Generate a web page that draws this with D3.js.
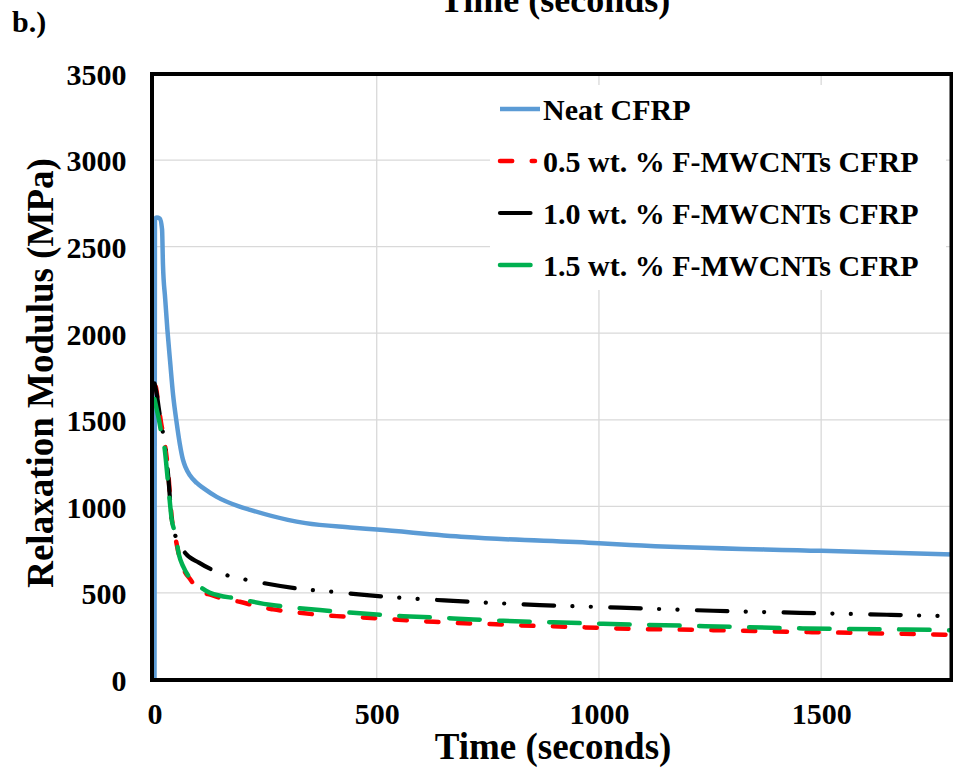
<!DOCTYPE html>
<html>
<head>
<meta charset="utf-8">
<script src="https://cdn.jsdelivr.net/npm/d3@7"></script>
<style>
  body { margin: 0; background: #fff; }
  svg text { font-family: "Liberation Serif", "Times New Roman", serif; font-weight: bold; fill: #000; }
</style>
</head>
<body>
<div id="chart"></div>
<script>
// Series data (time in seconds, modulus in MPa)
var neatTime = [0, 1, 5, 12, 17, 19, 24, 29, 35, 42, 50, 57, 64, 70, 80, 95, 110, 140, 190, 215, 300, 340, 440, 500, 700, 1000, 1070, 1500, 1800];
var neatValue = [0, 2660, 2668, 2662, 2600, 2400, 2200, 2020, 1840, 1640, 1480, 1360, 1270, 1225, 1178, 1135, 1105, 1055, 1000, 980, 922, 903, 878, 866, 823, 787, 777, 743, 722];

var cnt05Time = [0, 3, 8, 15, 22, 30, 39, 47, 55, 65, 80, 100, 129, 170, 192, 234, 267, 320, 410, 466, 537, 609, 680, 755, 826, 897, 969, 1040, 1257, 1471, 1685, 1800];
var cnt05Value = [1700, 1690, 1600, 1480, 1380, 1220, 930, 820, 720, 640, 580, 515, 487, 457, 449, 420, 405, 387, 366, 359, 347, 336, 326, 320, 312, 307, 301, 295, 285, 274, 264, 258];

var cnt10Time = [0, 5, 10, 15, 22, 30, 39, 50, 60, 69, 100, 132, 170, 211, 320, 402, 478, 672, 867, 1047, 1257, 1452, 1648, 1800];
var cnt10Value = [1710, 1650, 1560, 1480, 1380, 1200, 920, 810, 765, 731, 675, 631, 597, 574, 526, 506, 487, 454, 430, 415, 397, 385, 374, 365];

var cnt15Time = [0, 5, 10, 15, 22, 30, 39, 47, 55, 65, 84, 100, 125, 189, 264, 297, 372, 447, 560, 672, 785, 897, 1010, 1239, 1464, 1689, 1800];
var cnt15Value = [1620, 1560, 1500, 1430, 1350, 1150, 920, 840, 720, 650, 574, 540, 500, 466, 430, 420, 401, 385, 366, 353, 339, 330, 322, 308, 295, 289, 284];

var seriesNames = ["Neat CFRP", "0.5 wt. % F-MWCNTs CFRP", "1.0 wt. % F-MWCNTs CFRP", "1.5 wt. % F-MWCNTs CFRP"];
var seriesColours = ["#5B9BD5", "#FF0000", "#000000", "#00B050"];
var seriesDash = ["none", "12.2 19.5", "30.5 18.3 0.1 18.3 0.1 19.4", "30.5 19.5"];
var seriesWidth = [4.5, 4.5, 4.2, 4.5];

var xTicks = [0, 500, 1000, 1500];
var yTicks = [0, 500, 1000, 1500, 2000, 2500, 3000, 3500];

var width = 953, height = 777;
var margins = { top: 73.5, right: -1.5, bottom: 97.5, left: 154.5 };

var svg = d3.select("#chart").append("svg")
  .attr("width", width)
  .attr("height", height)
  .attr("xmlns", "http://www.w3.org/2000/svg");

var scaleX = d3.scaleLinear().domain([0, 1800]).range([margins.left, width - margins.right]);
var scaleY = d3.scaleLinear().domain([0, 3500]).range([height - margins.bottom, margins.top]);

// Gridlines
svg.append("g").attr("class", "grid-x")
  .selectAll("line").data(xTicks.slice(1)).enter().append("line")
  .attr("x1", function (d) { return scaleX(d); })
  .attr("x2", function (d) { return scaleX(d); })
  .attr("y1", scaleY(3500)).attr("y2", scaleY(0))
  .attr("stroke", "#d9d9d9").attr("stroke-width", 1.3);

svg.append("g").attr("class", "grid-y")
  .selectAll("line").data(yTicks.slice(1, -1)).enter().append("line")
  .attr("x1", scaleX(0)).attr("x2", scaleX(1800))
  .attr("y1", function (d) { return scaleY(d); })
  .attr("y2", function (d) { return scaleY(d); })
  .attr("stroke", "#d9d9d9").attr("stroke-width", 1.3);

// Legend box (white background hides the grid behind it)
var legend = svg.append("g").attr("class", "legend");
legend.append("rect")
  .attr("x", 490).attr("y", 85).attr("width", 456).attr("height", 205)
  .attr("fill", "#fff");

var rows = legend.selectAll("g.row").data(seriesNames).enter().append("g")
  .attr("class", "row")
  .attr("transform", function (d, i) { return "translate(500," + (109 + i * 52) + ")"; });

rows.append("line")
  .attr("x1", 0).attr("x2", function (d, i) { return i === 0 ? 40 : 35; })
  .attr("y1", 0).attr("y2", 0)
  .attr("stroke", function (d, i) { return seriesColours[i]; })
  .attr("stroke-width", function (d, i) { return seriesWidth[i]; })
  .attr("stroke-linecap", function (d, i) { return i === 0 ? "butt" : "round"; })
  .attr("stroke-dasharray", function (d, i) { return seriesDash[i]; });

rows.append("text")
  .attr("x", 43).attr("y", 11)
  .style("font-size", "30px")
  .text(function (d) { return d; });

// Lines
var data = [
  d3.zip(neatTime, neatValue),
  d3.zip(cnt05Time, cnt05Value),
  d3.zip(cnt10Time, cnt10Value),
  d3.zip(cnt15Time, cnt15Value)
];

var line = d3.line()
  .x(function (d) { return scaleX(d[0]); })
  .y(function (d) { return scaleY(d[1]); })
  .curve(d3.curveMonotoneX);

svg.append("clipPath").attr("id", "plot-clip")
  .append("rect")
  .attr("x", scaleX(0) - 3).attr("y", scaleY(3500))
  .attr("width", scaleX(1800) - scaleX(0) + 3).attr("height", scaleY(0) - scaleY(3500));

svg.append("g").attr("clip-path", "url(#plot-clip)")
  .selectAll("path.line").data(data).enter().append("path")
  .attr("class", "line")
  .attr("d", line)
  .attr("fill", "none")
  .attr("stroke", function (d, i) { return seriesColours[i]; })
  .attr("stroke-width", function (d, i) { return seriesWidth[i]; })
  .attr("stroke-linejoin", "round")
  .attr("stroke-linecap", function (d, i) { return i === 0 ? "butt" : "round"; })
  .attr("stroke-dasharray", function (d, i) { return seriesDash[i]; });

// Plot frame
svg.append("rect")
  .attr("x", scaleX(0) - 2.5).attr("y", scaleY(3500) + 0.5)
  .attr("width", scaleX(1800) - scaleX(0) - 0.5)
  .attr("height", scaleY(0) - scaleY(3500))
  .attr("fill", "none").attr("stroke", "#000").attr("stroke-width", 4);

// Axes (labels only)
var xAxis = svg.append("g")
  .attr("class", "x-axis")
  .attr("transform", "translate(0," + scaleY(0) + ")")
  .call(d3.axisBottom(scaleX).tickValues(xTicks).tickSize(0).tickPadding(23).tickFormat(d3.format("d")));
xAxis.select(".domain").remove();
xAxis.selectAll("text").style("font-size", "30px").attr("font-family", null).attr("fill", "#000");

var yAxis = svg.append("g")
  .attr("class", "y-axis")
  .attr("transform", "translate(" + scaleX(0) + ",0)")
  .call(d3.axisLeft(scaleY).tickValues(yTicks).tickSize(0).tickPadding(28).tickFormat(d3.format("d")));
yAxis.select(".domain").remove();
yAxis.selectAll("text").style("font-size", "30px").attr("font-family", null).attr("fill", "#000").attr("dy", "0.36em");

// Labels
svg.append("text")
  .attr("class", "x-label")
  .attr("text-anchor", "middle")
  .attr("transform", "translate(553,759)")
  .style("font-size", "37px")
  .text("Time (seconds)");

svg.append("text")
  .attr("class", "top-title")
  .attr("text-anchor", "middle")
  .attr("transform", "translate(555,12)")
  .style("font-size", "36px")
  .text("Time (seconds)");

svg.append("text")
  .attr("class", "y-label")
  .attr("text-anchor", "middle")
  .attr("transform", "rotate(-90) translate(-373,53)")
  .style("font-size", "37px")
  .text("Relaxation Modulus (MPa)");

svg.append("text")
  .attr("class", "panel-label")
  .attr("x", 12).attr("y", 32)
  .style("font-size", "30px")
  .text("b.)");
</script>
</body>
</html>
